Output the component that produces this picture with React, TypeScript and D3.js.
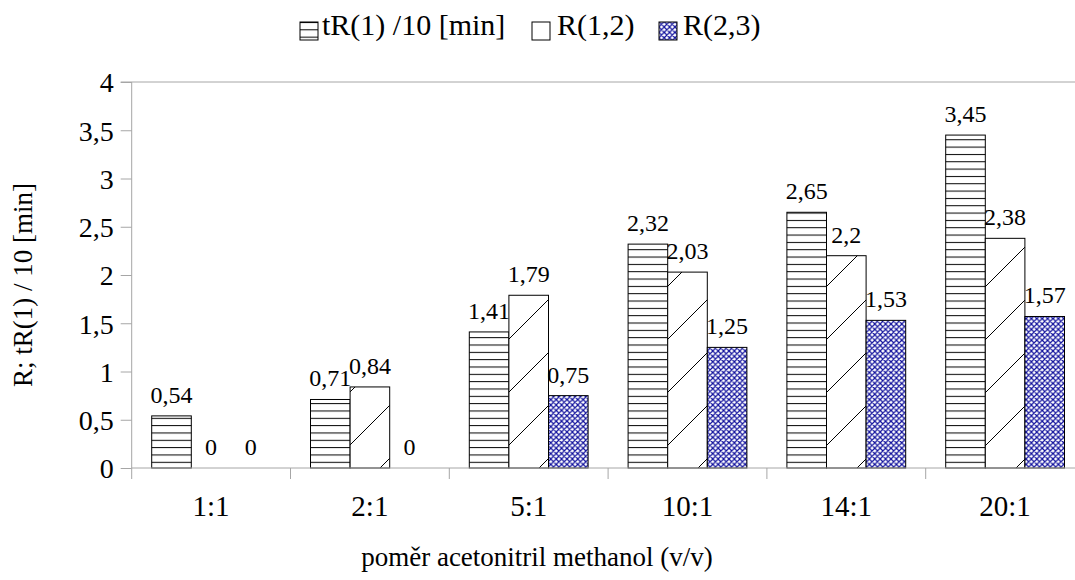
import * as d3 from "d3"
import { useEffect, useRef } from "react"

const FONT = "'Liberation Serif', 'Times New Roman', serif"
const AXIS_COLOR = "#a6a6a6"
const BLUE = "#10109c"

const categories = ["1:1", "2:1", "5:1", "10:1", "14:1", "20:1"]
const seriesNames = ["tR(1) /10 [min]", "R(1,2)", "R(2,3)"]
const tR = [0.54, 0.71, 1.41, 2.32, 2.65, 3.45]
const r12 = [0, 0.84, 1.79, 2.03, 2.2, 2.38]
const r23 = [0, 0, 0.75, 1.25, 1.53, 1.57]
const yTicks = [0, 0.5, 1, 1.5, 2, 2.5, 3, 3.5, 4]
const patterns = ["pat-horiz", "pat-diag", "pat-cross"]

const plot = { left: 131.7, top: 82, bottom: 468, bandStep: 158.8 }

const fmt = (v: number) => String(v).replace(".", ",")

export default function App() {
  const svgRef = useRef<SVGSVGElement | null>(null)

  useEffect(() => {
    if (!svgRef.current) return
    const svg = d3.select(svgRef.current)
    svg.selectAll("*").remove()

    // Patterns
    const defs = svg.append("defs")
    const ph = defs
      .append("pattern")
      .attr("id", "pat-horiz")
      .attr("patternUnits", "userSpaceOnUse")
      .attr("width", 10)
      .attr("height", 7.33)
    ph.append("rect").attr("width", 10).attr("height", 7.33).attr("fill", "#fff")
    ph.append("line").attr("x1", 0).attr("x2", 10).attr("y1", 0.5).attr("y2", 0.5).attr("stroke", "#000").attr("stroke-width", 1)

    const pd = defs
      .append("pattern")
      .attr("id", "pat-diag")
      .attr("patternUnits", "userSpaceOnUse")
      .attr("width", 53)
      .attr("height", 53)
    pd.append("rect").attr("width", 53).attr("height", 53).attr("fill", "#fff")
    pd.append("path")
      .attr("d", "M0,53 L53,0 M-2,2 L2,-2 M51,55 L55,51")
      .attr("stroke", "#000")
      .attr("stroke-width", 1)

    const pc = defs
      .append("pattern")
      .attr("id", "pat-cross")
      .attr("patternUnits", "userSpaceOnUse")
      .attr("width", 5.4)
      .attr("height", 5.4)
    pc.append("rect").attr("width", 5.4).attr("height", 5.4).attr("fill", "#fff")
    pc.append("path")
      .attr("d", "M0,0 L5.4,5.4 M5.4,0 L0,5.4 M-1,4.4 L1,6.4 M4.4,-1 L6.4,1")
      .attr("stroke", BLUE)
      .attr("stroke-width", 1.2)

    const x = d3
      .scaleBand()
      .domain(categories)
      .range([plot.left, plot.left + plot.bandStep * categories.length])
      .paddingInner(0)
      .paddingOuter(0)
    const inner = d3.scaleBand().domain(seriesNames).range([20, plot.bandStep - 20])
    const y = d3.scaleLinear().domain([0, 4]).range([plot.bottom, plot.top])

    // Top border line
    svg
      .append("line")
      .attr("x1", plot.left - 11)
      .attr("x2", x.range()[1])
      .attr("y1", y(4))
      .attr("y2", y(4))
      .attr("stroke", AXIS_COLOR)

    // Y axis
    const yAxis = svg
      .append("g")
      .attr("transform", `translate(${plot.left},0)`)
      .call(d3.axisLeft(y).tickValues(yTicks).tickSize(11).tickPadding(7).tickFormat((d) => fmt(+d)))
    yAxis.select(".domain").attr("stroke", AXIS_COLOR).attr("d", `M0,${y(4)}V${y(0)}`)
    yAxis.selectAll(".tick line").attr("stroke", AXIS_COLOR)
    yAxis
      .selectAll(".tick text")
      .attr("fill", "#000")
      .style("font-family", FONT)
      .style("font-size", "28px")
      .attr("dy", "0.35em")

    // Bars
    const allSeries = [tR, r12, r23]
    allSeries.forEach((vals, si) => {
      const g = svg.append("g")
      g.selectAll("rect")
        .data(vals.map((v, i) => ({ v, c: categories[i] })).filter((d) => d.v > 0))
        .enter()
        .append("rect")
        .attr("x", (d) => x(d.c)! + inner(seriesNames[si])!)
        .attr("width", inner.bandwidth())
        .attr("y", (d) => y(d.v))
        .attr("height", (d) => y(0) - y(d.v))
        .attr("fill", `url(#${patterns[si]})`)
        .attr("stroke", "#000")
        .attr("stroke-width", 1)

      g.selectAll("text")
        .data(vals.map((v, i) => ({ v, c: categories[i] })))
        .enter()
        .append("text")
        .attr("x", (d) => x(d.c)! + inner(seriesNames[si])! + inner.bandwidth() / 2)
        .attr("y", (d) => y(d.v) - 13)
        .attr("text-anchor", "middle")
        .style("font-family", FONT)
        .style("font-size", "24px")
        .text((d) => fmt(d.v))
    })

    // X axis
    svg
      .append("line")
      .attr("x1", plot.left)
      .attr("x2", x.range()[1])
      .attr("y1", y(0))
      .attr("y2", y(0))
      .attr("stroke", AXIS_COLOR)
    svg
      .append("g")
      .selectAll("line")
      .data(d3.range(categories.length + 1))
      .enter()
      .append("line")
      .attr("x1", (i) => plot.left + i * x.step())
      .attr("x2", (i) => plot.left + i * x.step())
      .attr("y1", y(0))
      .attr("y2", y(0) + 11)
      .attr("stroke", AXIS_COLOR)
    svg
      .append("g")
      .selectAll("text")
      .data(categories)
      .enter()
      .append("text")
      .attr("x", (d) => x(d)! + x.bandwidth() / 2)
      .attr("y", 516)
      .attr("text-anchor", "middle")
      .style("font-family", FONT)
      .style("font-size", "29px")
      .text((d) => d)

    // Axis titles
    svg
      .append("text")
      .attr("x", 537)
      .attr("y", 566)
      .attr("text-anchor", "middle")
      .style("font-family", FONT)
      .style("font-size", "27px")
      .text("poměr acetonitril methanol (v/v)")
    svg
      .append("text")
      .attr("transform", "translate(32,285) rotate(-90)")
      .attr("text-anchor", "middle")
      .style("font-family", FONT)
      .style("font-size", "27px")
      .text("R; tR(1) / 10 [min]")

    // Legend
    const legendItems = [
      { box: 300, text: 322 },
      { box: 532, text: 557 },
      { box: 659, text: 683 },
    ]
    legendItems.forEach((it, i) => {
      svg
        .append("rect")
        .attr("x", it.box)
        .attr("y", 22)
        .attr("width", 18)
        .attr("height", 18)
        .attr("fill", i === 1 ? "#fff" : `url(#${patterns[i]})`)
        .attr("stroke", "#000")
      svg
        .append("text")
        .attr("x", it.text)
        .attr("y", 35)
        .style("font-family", FONT)
        .style("font-size", "30px")
        .text(seriesNames[i])
    })
  }, [])

  return (
    <svg
      ref={svgRef}
      width={1075}
      height={580}
      style={{ position: "absolute", left: 0, top: 0, background: "#fff" }}
      xmlns="http://www.w3.org/2000/svg"
    />
  )
}
